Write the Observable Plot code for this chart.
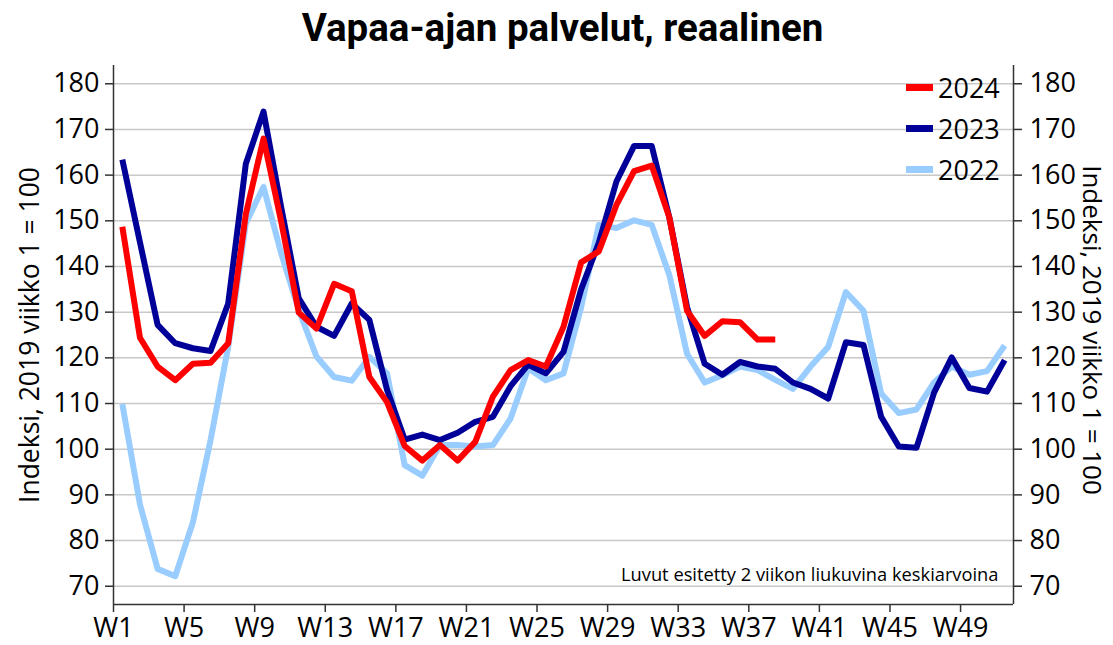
<!DOCTYPE html>
<html>
<head>
<meta charset="utf-8">
<script src="https://cdn.jsdelivr.net/npm/d3@7"></script>
<script src="https://cdn.jsdelivr.net/npm/@observablehq/plot@0.6"></script>
<style>
  body { margin: 0; background: #fff; }
  #wrap { position: relative; width: 1113px; height: 645px; font-family: "Open Sans", sans-serif; color: #000; }
  #title { height: 52px; text-align: center; font-family: Roboto, sans-serif; font-weight: 700; font-size: 38.5px; line-height: 56px; padding-left: 12px; box-sizing: border-box; }
  #legend { position: absolute; left: 906px; top: 67px; }
  .row { display: flex; align-items: center; height: 41px; font-size: 27px; }
  .sw { width: 27px; height: 7px; margin-right: 5px; }
</style>
</head>
<body>
<div id="wrap">
  <div id="title">Vapaa-ajan palvelut, reaalinen</div>
  <div id="chart"></div>
  <div id="legend"></div>
</div>
<script>
// Series values, weeks W1.. (2-week moving averages)
const series = ["2024", "2023", "2022"];
const colors = ["#ff0000", "#000099", "#99ccff"];
const v2024 = [148.7,124.4,118.1,115.1,118.7,118.9,123.2,151.5,168.0,149.9,
               129.9,126.4,136.2,134.6,115.8,110.3,100.7,97.5,100.9,97.5,
               101.6,111.5,117.3,119.5,118.1,126.8,140.9,143.3,153.5,160.9,
               162.1,150.7,130.3,124.8,128.0,127.8,124.0,124.0];
const v2023 = [163.4,145.3,127.2,123.2,122.1,121.5,131.9,162.5,173.9,153.0,
               133.0,126.8,124.8,131.9,128.3,113.0,102.1,103.2,102.0,103.6,
               106.0,107.1,113.8,118.5,116.6,121.3,135.0,145.2,158.6,166.4,
               166.4,150.7,131.1,118.7,116.3,119.1,118.1,117.6,114.6,113.2,
               111.1,123.4,122.8,107.1,100.6,100.3,112.4,120.1,113.4,112.6,119.5];
const v2022 = [109.9,87.9,73.8,72.2,84.0,102.0,122.4,149.5,157.4,142.9,
               130.5,120.3,115.8,115.0,120.2,116.6,96.5,94.2,100.9,100.9,
               100.6,100.9,106.7,117.7,115.1,116.6,131.1,149.1,148.4,150.1,
               149.1,138.1,120.9,114.6,116.2,118.1,117.3,115.2,113.2,118.1,
               122.4,134.4,130.3,112.2,107.9,108.7,114.6,118.1,116.3,117.1,122.7];
const xTicks = [1,5,9,13,17,21,25,29,33,37,41,45,49];
const yTicks = [70,80,90,100,110,120,130,140,150,160,170,180];
const yTitle = "Indeksi, 2019 viikko 1 = 100";
const caption = "Luvut esitetty 2 viikon liukuvina keskiarvoina";

// week k is drawn in the middle of the interval between tick k and tick k+1
const toRows = (arr) => arr.map((v, i) => ({week: i + 1.5, value: v}));
const data = {"2024": toRows(v2024), "2023": toRows(v2023), "2022": toRows(v2022)};

const axisColor = "#333";
const chart = Plot.plot({
  width: 1113,
  height: 593,
  marginTop: 13,
  marginBottom: 41,
  marginLeft: 113,
  marginRight: 100,
  style: {fontFamily: "'Open Sans', sans-serif", fontSize: "27px", color: "#000", background: "#fff", overflow: "visible"},
  x: {domain: [1, 52]},
  y: {domain: [66, 184]},
  marks: [
    Plot.gridY(yTicks, {stroke: "#c8c8c8", strokeOpacity: 1, strokeWidth: 1.5}),
    Plot.axisY(yTicks, {anchor: "left", tickSize: 8, tickPadding: 6, label: null, stroke: axisColor, strokeWidth: 1.5, fontSize: 27, fill: "#000"}),
    Plot.axisY(yTicks, {anchor: "right", tickSize: 8, tickPadding: 8, label: null, stroke: axisColor, strokeWidth: 1.5, fontSize: 27, fill: "#000"}),
    Plot.axisX(xTicks, {anchor: "bottom", tickSize: 8, tickPadding: 5, label: null, tickFormat: d => "W" + d, stroke: axisColor, strokeWidth: 1.5, fontSize: 27, fill: "#000"}),
    Plot.ruleX([1, 52], {stroke: axisColor, strokeWidth: 1.5}),
    Plot.ruleY([66], {stroke: axisColor, strokeWidth: 1.5}),
    Plot.line(data["2022"], {x: "week", y: "value", stroke: colors[2], strokeWidth: 6, strokeLinecap: "butt", strokeLinejoin: "round"}),
    Plot.line(data["2023"], {x: "week", y: "value", stroke: colors[1], strokeWidth: 6, strokeLinecap: "butt", strokeLinejoin: "round"}),
    Plot.line(data["2024"], {x: "week", y: "value", stroke: colors[0], strokeWidth: 6, strokeLinecap: "butt", strokeLinejoin: "round"}),
    Plot.text([yTitle], {frameAnchor: "left", textAnchor: "middle", dx: -83, dy: 0, rotate: -90, fontSize: 26.5, fill: "#000"}),
    Plot.text([yTitle], {frameAnchor: "right", textAnchor: "middle", dx: 78, dy: -5, rotate: 90, fontSize: 26, fill: "#000"}),
    Plot.text([caption], {frameAnchor: "bottom-right", textAnchor: "end", dx: -15, dy: -24, fontSize: 18.3, fill: "#000"})
  ]
});
document.getElementById("chart").appendChild(chart);

const legend = document.getElementById("legend");
series.forEach((s, i) => {
  const row = document.createElement("div");
  row.className = "row";
  const sw = document.createElement("div");
  sw.className = "sw";
  sw.style.background = colors[i];
  const t = document.createElement("span");
  t.textContent = s;
  row.appendChild(sw);
  row.appendChild(t);
  legend.appendChild(row);
});
</script>
</body>
</html>
